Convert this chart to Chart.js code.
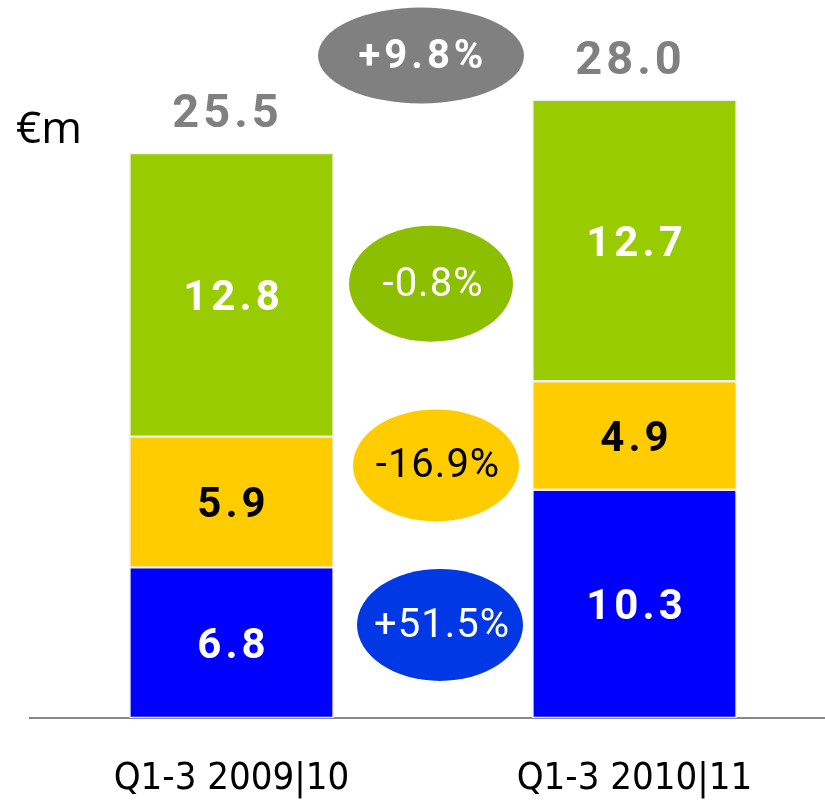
<!DOCTYPE html>
<html>
<head>
<meta charset="utf-8">
<script src="https://cdn.jsdelivr.net/npm/chart.js@4"></script>
<style>
  html, body { margin: 0; padding: 0; background: #fff; overflow: hidden; }
  #wrap { width: 836px; height: 800px; }
</style>
</head>
<body>
<div id="wrap"><canvas id="chart"></canvas></div>
<script>
// data
let periods = ['Q1-3 2009|10', 'Q1-3 2010|11'];
let blueValues = [6.8, 10.3];
let yellowValues = [5.9, 4.9];
let greenValues = [12.8, 12.7];
let totals = [25.5, 28.0];
let changes = ['+9.8%', '-0.8%', '-16.9%', '+51.5%'];
let changeLevels = [29.9, 19.6, 11.4, 4.2]; // where each bubble sits, in €m

// bubble look: fill, text colour, bold, x shift from middle, radii
let bubbles = [
  { fill: '#808080', text: '#ffffff', bold: true,  dx: -12, rx: 103, ry: 48 },
  { fill: '#8cbf00', text: '#ffffff', bold: false, dx: -2,  rx: 82,  ry: 58 },
  { fill: '#ffcc00', text: '#000000', bold: false, dx: 3,   rx: 83,  ry: 56 },
  { fill: '#0038e6', text: '#ffffff', bold: false, dx: 7,   rx: 83,  ry: 56 }
];

let labelColors = ['#ffffff', '#000000', '#ffffff'];

const extras = {
  id: 'extras',
  afterDatasetsDraw(chart) {
    const ctx = chart.ctx;
    const y = chart.scales.y;
    ctx.save();

    // values inside the segments
    ctx.textAlign = 'center';
    ctx.textBaseline = 'middle';
    ctx.font = 'bold 42px Roboto';
    ctx.letterSpacing = '4px';
    chart.data.datasets.forEach((ds, i) => {
      chart.getDatasetMeta(i).data.forEach((bar, j) => {
        ctx.fillStyle = labelColors[i];
        let mid = (bar.y + bar.base) / 2;
        ctx.fillText(ds.data[j].toFixed(1), bar.x + 2, mid + 5);
      });
    });

    // totals on top
    ctx.fillStyle = '#808080';
    ctx.font = 'bold 47px Roboto';
    ctx.textBaseline = 'alphabetic';
    let top = chart.getDatasetMeta(2).data;
    top.forEach((bar, j) => {
      ctx.fillText(totals[j].toFixed(1), bar.x - 4, bar.y - 26);
    });

    // change bubbles
    let midX = (top[0].x + top[1].x) / 2;
    changes.forEach((txt, k) => {
      let b = bubbles[k];
      let cx = midX + b.dx;
      let cy = y.getPixelForValue(changeLevels[k]);
      ctx.fillStyle = b.fill;
      ctx.beginPath();
      ctx.ellipse(cx, cy, b.rx, b.ry, 0, 0, Math.PI * 2);
      ctx.fill();
      ctx.fillStyle = b.text;
      ctx.font = (b.bold ? 'bold 40px' : '40px') + ' Roboto';
      ctx.letterSpacing = b.bold ? '4px' : '1px';
      ctx.textBaseline = 'middle';
      ctx.fillText(txt, cx + 2, cy + 2);
    });

    // unit
    ctx.letterSpacing = '0px';
    ctx.textAlign = 'left';
    ctx.textBaseline = 'alphabetic';
    ctx.fillStyle = '#000';
    ctx.font = '44px "Open Sans"';
    ctx.fillText('€m', 16, 143);
    ctx.restore();
  }
};

new Chart(document.getElementById('chart'), {
  type: 'bar',
  data: {
    labels: periods,
    datasets: [
      { label: 'blue', data: blueValues, backgroundColor: '#0000ff' },
      { label: 'yellow', data: yellowValues, backgroundColor: '#ffcc00' },
      { label: 'green', data: greenValues, backgroundColor: '#99cc00' }
    ]
  },
  options: {
    responsive: true,
    maintainAspectRatio: false,
    animation: false,
    layout: { padding: { left: 30, right: 0, top: 9, bottom: 0 } },
    datasets: {
      bar: {
        barThickness: 204,
        borderColor: '#eeeeee',
        borderWidth: 1.5,
        borderSkipped: false
      }
    },
    plugins: { legend: { display: false }, tooltip: { enabled: false } },
    scales: {
      x: {
        stacked: true,
        grid: { display: false, drawTicks: false },
        border: { display: true, color: '#888888', width: 2 },
        ticks: { color: '#000', padding: 38, font: { family: '"DejaVu Sans Condensed"', size: 38 } },
        afterFit(scale) { scale.height = 82; }
      },
      y: {
        stacked: true,
        display: false,
        min: 0,
        max: 32
      }
    }
  },
  plugins: [extras]
});
</script>
</body>
</html>
